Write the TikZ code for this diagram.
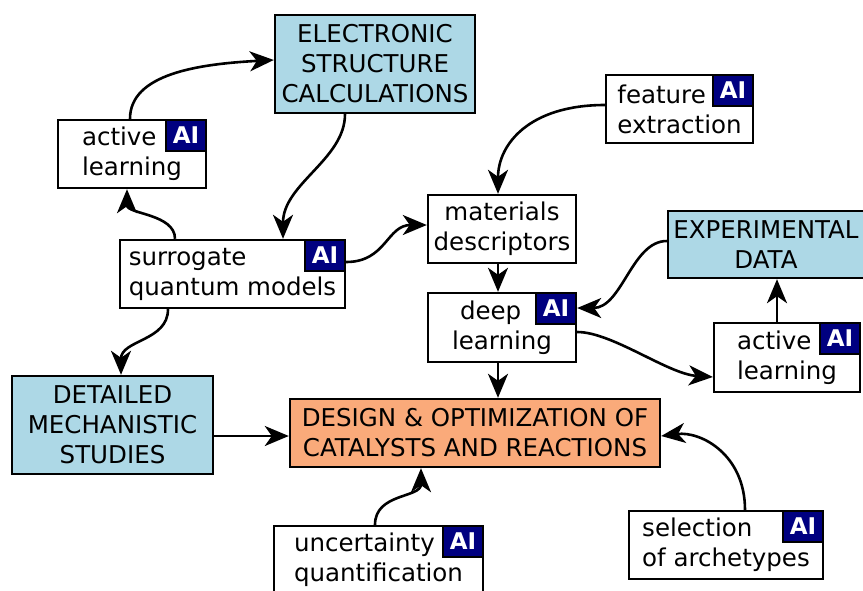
\documentclass[tikz,border=0pt]{standalone}
\usepackage{fontspec}
\setmainfont{DejaVu Sans}
\usetikzlibrary{arrows.meta}
\definecolor{lblue}{HTML}{ADD8E6}
\definecolor{lorange}{HTML}{FAAA7A}
\definecolor{ainavy}{HTML}{000080}
\tikzset{
  box/.style={draw=black, line width=2.4pt, inner sep=0pt, fill=white,
    font=\fontsize{24.5}{30}\selectfont},
  bluebox/.style={box, fill=lblue, align=center},
  orangebox/.style={box, fill=lorange, align=center},
  whitebox/.style={box, align=left},
  aibadge/.style={draw=black, line width=2.4pt, fill=ainavy, text=white,
    inner sep=0pt, minimum width=40pt, minimum height=31pt, anchor=north east,
    font=\fontsize{23}{24}\selectfont\bfseries},
  conn/.style={line width=2.6pt, arrows={-Stealth[length=24pt,width=20pt,inset=7pt]}}
}
\begin{document}
\begin{tikzpicture}[x=1pt,y=-1pt]
\clip (0,0) rectangle (863,590);
\fill[white] (0,0) rectangle (863,590);

% nodes
\node[bluebox, minimum width=200pt, minimum height=98pt] (esc) at (375,64)
  {ELECTRONIC\\STRUCTURE\\CALCULATIONS};
\node[whitebox, minimum width=148pt, minimum height=68pt] (al1) at (132,154)
  {active\\learning};
\node[aibadge] (al1ai) at (al1.north east) {AI};
\node[whitebox, minimum width=225pt, minimum height=68pt] (sqm) at (232.5,274)
  {surrogate\\quantum models};
\node[aibadge] (sqmai) at (sqm.north east) {AI};
\node[whitebox, minimum width=147pt, minimum height=68pt] (fe) at (679.5,109)
  {feature\\extraction};
\node[aibadge] (feai) at (fe.north east) {AI};
\node[box, align=center, minimum width=148pt, minimum height=68pt] (md) at (502,229)
  {materials\\descriptors};
\node[bluebox, minimum width=196pt, minimum height=67pt] (exp) at (766,244.5)
  {EXPERIMENTAL\\DATA};
\node[whitebox, minimum width=148pt, minimum height=69pt] (dl) at (502,327.5)
  {\hspace*{8pt}deep\\learning};
\node[aibadge] (dlai) at (dl.north east) {AI};
\node[whitebox, minimum width=146pt, minimum height=69pt] (alr) at (787,357.5)
  {active\\learning};
\node[aibadge] (alrai) at (alr.north east) {AI};
\node[bluebox, minimum width=201pt, minimum height=98pt] (det) at (112.5,425)
  {DETAILED\\MECHANISTIC\\STUDIES};
\node[orangebox, minimum width=370pt, minimum height=68pt] (des) at (475,433)
  {DESIGN \& OPTIMIZATION OF\\CATALYSTS AND REACTIONS};
\node[whitebox, minimum width=209pt, minimum height=68pt] (unc) at (378.5,560)
  {uncertainty\\quantification};
\node[aibadge] (uncai) at (unc.north east) {AI};
\node[whitebox, minimum width=194pt, minimum height=68pt] (sel) at (726,545)
  {selection\\of archetypes};
\node[aibadge] (selai) at (sel.north east) {AI};

% connectors
\draw[conn] ([xshift=-2pt]al1.north) .. controls +(0,-45) and +(-75,4) .. ([yshift=4pt]esc.west);
\draw[conn] ([xshift=-30pt]esc.south) .. controls +(0,45) and +(0,-55) .. ([xshift=50.5pt]sqm.north);
\draw[conn] ([xshift=-57.5pt]sqm.north) .. controls +(0,-25) and +(0,25) .. ([xshift=-5pt]al1.south);
\draw[conn] ([yshift=12pt]sqm.east) .. controls +(40,0) and +(-40,0) .. ([yshift=4pt]md.west);
\draw[conn] ([yshift=4pt]fe.west) .. controls +(-75,0) and +(0,-50) .. ([xshift=-4pt]md.north);
\draw[conn] ([xshift=-4pt]md.south) -- ([xshift=-4pt]dl.north);
\draw[conn] ([yshift=3.5pt]exp.west) .. controls +(-35,0) and +(45,0) .. ([yshift=19.5pt]dl.east);
\draw[conn] ([yshift=-4.5pt]dl.east) .. controls +(35,0) and +(-45,-3) .. ([yshift=-19.5pt]alr.west);
\draw[conn] ([xshift=-10pt]alr.north) -- ([xshift=11pt]exp.south);
\draw[conn] ([xshift=-4pt]dl.south) -- ([xshift=23pt]des.north);
\draw[conn] ([xshift=-64.5pt]sqm.south) .. controls +(0,32) and +(0,-35) .. ([xshift=8.5pt]det.north);
\draw[conn] ([yshift=-11pt]det.east) -- ([yshift=-3pt]des.west);
\draw[conn] ([xshift=-3.5pt]unc.north) .. controls +(0,-32) and +(0,30) .. ([xshift=-54pt]des.south);
\draw[conn] ([xshift=19pt]sel.north) .. controls +(0,-55) and +(40,-5) .. ([yshift=-3pt]des.east);
\end{tikzpicture}
\end{document}
